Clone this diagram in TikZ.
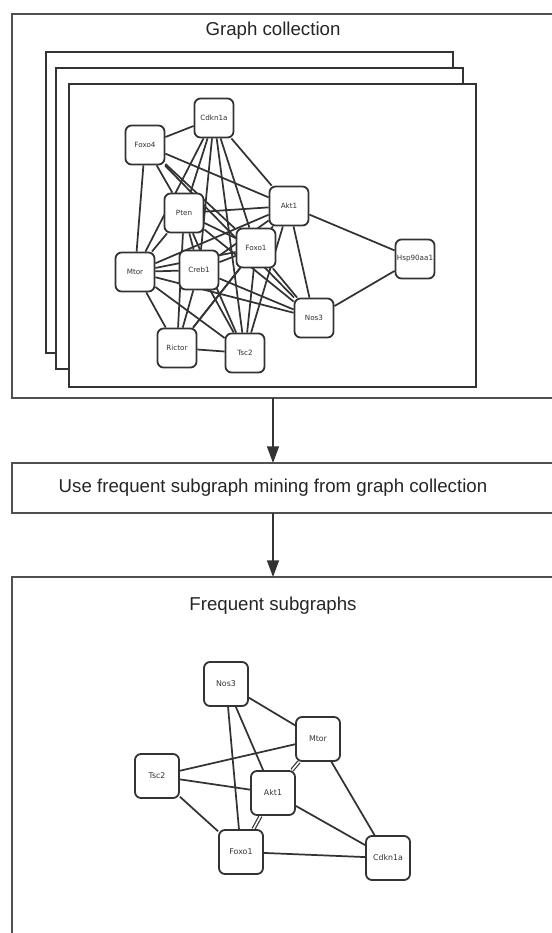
\documentclass[tikz,border=0pt]{standalone}
\usepackage{fontspec}
\setmainfont{Liberation Sans}
\newfontfamily\gnodefont{DejaVu Sans}
\usetikzlibrary{arrows.meta}
\definecolor{ink}{HTML}{333333}
\definecolor{frame}{HTML}{505050}
\pgfdeclarelayer{bg}
\pgfdeclarelayer{fg}
\pgfsetlayers{bg,main,fg}
\begin{document}
\begin{tikzpicture}[x=0.75pt,y=-0.75pt,
  gnode/.style={draw=ink,line width=1.35pt,fill=white,rounded corners=4.5pt,
    minimum size=29.25pt,inner sep=0pt,font=\gnodefont\fontsize{5.4}{6}\selectfont,text=ink},
  bnode/.style={gnode,minimum size=33pt,font=\gnodefont\fontsize{5.9}{7}\selectfont},
  edge/.style={draw=ink,line width=1.3pt},
  dedge/.style={draw=ink,line width=0.9pt,double=white,double distance=1.2pt},
  framebox/.style={draw=frame,line width=1.5pt,fill=white},
  page/.style={draw=ink,line width=1.3pt,fill=white},
  flow/.style={draw=ink,line width=1pt,-{Triangle[length=12.5pt,width=9pt]}},
  title/.style={font=\fontsize{14}{16}\selectfont,text=black!85}
]
\useasboundingbox (0,0) rectangle (551,933);
\clip (0,0) rectangle (551,933);

\begin{pgfonlayer}{bg}
\fill[white] (0,0) rectangle (551,933);
\draw[framebox] (12,14) rectangle (580,398);
\draw[framebox] (12,463) rectangle (580,513);
\draw[framebox] (12,577) rectangle (580,960);
\draw[page] (46,52) rectangle (453,353);
\draw[page] (56,68) rectangle (463,369);
\draw[page] (69,84) rectangle (476,387);
\end{pgfonlayer}

\coordinate (f1b) at (273,398);
\coordinate (f2t) at (273,463);
\coordinate (f2b) at (273,513);
\coordinate (f3t) at (273,577);
\draw[flow] (f1b) -- (f2t);
\draw[flow] (f2b) -- (f3t);

\node[title] (t1) at (273,31) {Graph collection};
\node[title] (t2) at (273,488) {Use frequent subgraph mining from graph collection};
\node[title] (t3) at (273,606) {Frequent subgraphs};

\begin{pgfonlayer}{fg}
% top graph nodes
\node[gnode] (cdk) at (214,118) {Cdkn1a};
\node[gnode] (fx4) at (145,145) {Foxo4};
\node[gnode] (pten) at (184,213) {Pten};
\node[gnode] (akt) at (289,206) {Akt1};
\node[gnode] (fx1) at (256,248) {Foxo1};
\node[gnode] (mtor) at (135,272) {Mtor};
\node[gnode] (creb) at (199,270) {Creb1};
\node[gnode] (hsp) at (415,259) {Hsp90aa1};
\node[gnode] (nos) at (314,318) {Nos3};
\node[gnode] (ric) at (177,348) {Rictor};
\node[gnode] (tsc) at (245,353) {Tsc2};
% bottom graph nodes
\node[bnode] (bnos) at (226,684) {Nos3};
\node[bnode] (bmtor) at (318,739) {Mtor};
\node[bnode] (btsc) at (157,776) {Tsc2};
\node[bnode] (bakt) at (273,793) {Akt1};
\node[bnode] (bfx1) at (241,852) {Foxo1};
\node[bnode] (bcdk) at (388,858) {Cdkn1a};
\end{pgfonlayer}

% top graph edges
\foreach \a/\b in {cdk/fx4,cdk/akt,cdk/pten,cdk/mtor,cdk/creb,cdk/fx1,cdk/tsc,
  fx4/mtor,fx4/pten,fx4/akt,fx4/fx1,fx4/nos,
  pten/akt,pten/mtor,pten/creb,pten/fx1,pten/tsc,pten/nos,pten/ric,
  akt/mtor,akt/creb,akt/hsp,akt/nos,akt/tsc,akt/ric,
  fx1/mtor,fx1/creb,fx1/ric,fx1/tsc,fx1/nos,
  mtor/creb,mtor/ric,mtor/tsc,mtor/nos,
  creb/ric,creb/tsc,creb/nos,
  hsp/nos,ric/tsc}
  \draw[edge] (\a) -- (\b);

% bottom graph edges
\foreach \a/\b in {bnos/bmtor,bnos/bfx1,bnos/bakt,btsc/bmtor,btsc/bakt,btsc/bfx1,
  bmtor/bcdk,bakt/bcdk,bfx1/bcdk}
  \draw[edge] (\a) -- (\b);
\draw[dedge] (bmtor) -- (bakt);
\draw[dedge] (bakt) -- (bfx1);
\end{tikzpicture}
\end{document}
